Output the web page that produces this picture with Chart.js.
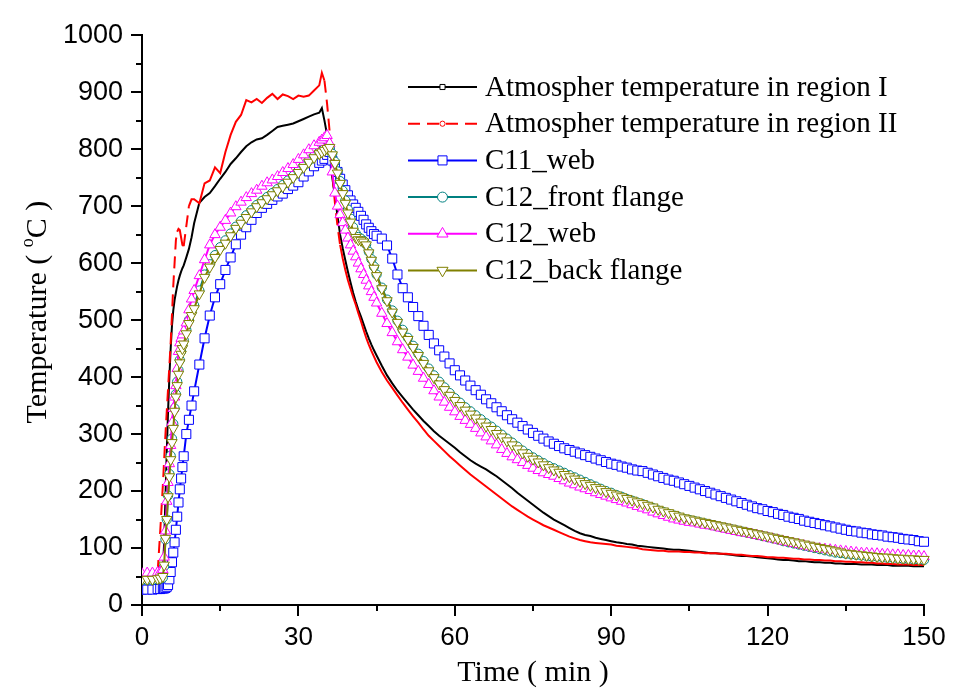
<!DOCTYPE html>
<html>
<head>
<meta charset="utf-8">
<title>Temperature - time curves</title>
<script src="https://cdn.jsdelivr.net/npm/chart.js@4.4.3/dist/chart.umd.min.js"></script>
<style>
  html, body { margin: 0; padding: 0; background: #fff; }
  canvas { display: block; }
</style>
</head>
<body>
<canvas id="tempChart" width="968" height="690"></canvas>
<script>
// sampling times (min), finer during the heating jump and the cooling drop
const minutes = [
  0, 1, 2, 3, 3.5, 4, 4.25, 4.5, 4.75, 5, 5.25, 5.5, 5.75, 6, 6.25, 6.5, 6.75, 7, 7.25, 7.5, 7.75, 8, 8.5, 9, 9.5, 10,
  11, 12, 13, 14, 15, 16, 17, 18, 19, 20, 21, 22, 23, 24, 25, 26, 27, 28, 29, 30, 31, 32, 33,
  34, 34.5, 35, 35.5, 36, 36.5, 37, 37.5, 38, 38.5, 39, 39.5, 40, 40.5, 41, 41.5, 42, 42.5, 43, 43.5, 44, 44.5, 45,
  46, 47, 48, 49, 50, 51, 52, 53, 54, 55,
  56, 57, 58, 59, 60, 61, 62, 63, 64, 65,
  66, 67, 68, 69, 70, 71, 72, 73, 74, 75,
  76, 77, 78, 79, 80, 81, 82, 83, 84, 85,
  86, 87, 88, 89, 90, 91, 92, 93, 94, 95,
  96, 97, 98, 99, 100, 101, 102, 103, 104, 105,
  106, 107, 108, 109, 110, 111, 112, 113, 114, 115,
  116, 117, 118, 119, 120, 121, 122, 123, 124, 125,
  126, 127, 128, 129, 130, 131, 132, 133, 134, 135,
  136, 137, 138, 139, 140, 141, 142, 143, 144, 145,
  146, 147, 148, 149, 150
];

const atmosRegionI = [
  50, 50, 50, 52, 55, 60, 110, 190, 270, 340, 400, 450, 490, 517, 535, 548, 560, 570, 578, 585, 591, 596, 610, 625, 645, 670,
  706, 716, 723, 735, 748, 760, 774, 784, 795, 805, 812, 817, 819, 825, 832, 839, 841, 843, 845, 849, 853, 857, 861,
  864, 872, 850, 825, 785, 750, 717, 683, 650, 626, 605, 585, 566, 548, 532, 518, 506, 493, 480, 468, 457, 447, 438,
  420, 403, 389, 376, 365, 354, 343, 333, 323, 314,
  305, 297, 290, 283, 276, 268, 261, 254, 248, 243,
  238, 232, 226, 219, 212, 205, 197, 190, 183, 176,
  169, 162, 156, 150, 145, 140, 135, 130, 126, 123,
  121, 118, 116, 114, 112, 110, 109, 107, 106, 104,
  103, 102, 101, 100, 99, 98, 97, 97, 96, 95,
  94, 93, 92, 91, 91, 90, 89, 88, 87, 86,
  86, 85, 84, 83, 82, 81, 80, 79, 79, 78,
  77, 77, 76, 75, 75, 74, 74, 73, 73, 72,
  72, 72, 71, 71, 71, 70, 70, 70, 69, 69,
  69, 69, 68, 68, 68
];

const atmosRegionII = [
  55, 55, 55, 58, 130, 210, 255, 300, 340, 380, 420, 460, 510, 560, 600, 640, 655, 660, 658, 645, 632, 630, 665, 700, 712, 712,
  705, 740, 745, 768, 758, 795, 825, 848, 860, 886, 882, 888, 881, 890, 897, 888, 896, 893, 888, 894, 892, 894, 903,
  912, 934, 920, 880, 830, 760, 706, 665, 632, 608, 588, 570, 555, 540, 527, 512, 498, 483, 469, 457, 446, 436, 426,
  409, 394, 381, 368, 355, 343, 331, 320, 308, 297,
  288, 279, 270, 261, 253, 245, 237, 229, 222, 215,
  208, 201, 194, 187, 180, 173, 167, 161, 155, 150,
  145, 140, 136, 132, 128, 124, 120, 117, 114, 112,
  110, 109, 108, 107, 106, 104, 103, 102, 101, 100,
  98, 97, 96, 95, 95, 94, 94, 94, 93, 93,
  92, 92, 91, 91, 91, 90, 90, 89, 88, 88,
  87, 86, 86, 85, 84, 84, 83, 83, 82, 81,
  81, 80, 80, 79, 79, 78, 78, 77, 77, 76,
  76, 75, 75, 74, 74, 73, 73, 72, 72, 71,
  71, 71, 70, 70, 70
];

const c11Web = [
  27, 27, 27, 28, 28, 29, 29, 30, 32, 35, 45, 58, 75, 92, 110, 132, 155, 180, 203, 222, 242, 261, 300, 325, 350, 375,
  422, 468, 508, 540, 563, 588, 610, 633, 650, 663, 676, 688, 697, 704, 711, 717, 722, 730, 736, 742, 752, 761, 770,
  776, 780, 783, 790, 795, 780, 770, 760, 748, 738, 728, 719, 710, 703, 697, 690, 683, 676, 668, 662, 656, 651, 648,
  643, 631, 608, 580, 556, 540, 523, 507, 490, 474,
  459, 447, 436, 424, 412, 403, 394, 385, 377, 369,
  361, 354, 347, 340, 333, 326, 320, 314, 308, 302,
  297, 292, 287, 283, 279, 275, 272, 269, 266, 263,
  260, 257, 254, 251, 248, 246, 243, 241, 238, 236,
  235, 232, 229, 226, 223, 220, 218, 215, 212, 209,
  206, 203, 200, 197, 194, 191, 188, 185, 182, 179,
  176, 173, 170, 168, 165, 163, 160, 158, 155, 153,
  151, 148, 146, 144, 142, 140, 138, 136, 134, 132,
  130, 129, 127, 126, 124, 123, 122, 120, 119, 118,
  116, 115, 114, 112, 111
];

const c12FrontFlange = [
  44, 44, 44, 45, 46, 48, 68, 115, 150, 192, 230, 262, 292, 318, 345, 370, 392, 412, 430, 445, 456, 465, 483, 500, 514, 526,
  552, 580, 598, 614, 628, 640, 652, 664, 674, 684, 693, 702, 709, 716, 723, 730, 737, 745, 753, 762, 771, 780, 788,
  795, 798, 801, 803, 803, 792, 778, 761, 744, 727, 710, 694, 678, 663, 652, 646, 643, 639, 633, 620, 607, 594, 580,
  557, 536, 517, 499, 483, 469, 455, 441, 428, 415,
  403, 392, 382, 372, 363, 355, 347, 340, 333, 326,
  319, 313, 306, 299, 292, 285, 278, 271, 265, 259,
  254, 249, 244, 240, 236, 232, 228, 224, 220, 216,
  212, 208, 204, 200, 197, 193, 190, 186, 183, 180,
  177, 173, 170, 166, 163, 160, 157, 154, 151, 149,
  147, 145, 143, 141, 139, 137, 135, 133, 131, 129,
  127, 125, 123, 121, 119, 117, 115, 112, 110, 108,
  106, 104, 102, 100, 98, 96, 94, 92, 91, 90,
  89, 88, 87, 86, 85, 85, 84, 83, 83, 82,
  81, 81, 80, 80, 79
];

const c12Web = [
  55, 56, 56, 57, 58, 62, 84, 130, 182, 215, 248, 280, 320, 345, 365, 385, 415, 445, 460, 468, 474, 481, 495, 518, 537, 552,
  578, 606, 632, 650, 663, 675, 688, 699, 707, 715, 722, 728, 735, 741, 746, 752, 759, 766, 773, 782, 790, 799, 806,
  812, 816, 820, 824, 810, 760, 723, 700, 685, 671, 658, 644, 632, 621, 611, 600, 590, 580, 570, 560, 550, 540, 530,
  512, 494, 478, 462, 448, 435, 421, 410, 398, 387,
  376, 365, 356, 347, 339, 331, 324, 317, 310, 302,
  295, 288, 281, 273, 266, 260, 255, 250, 245, 240,
  236, 232, 229, 226, 222, 218, 214, 211, 207, 204,
  201, 197, 194, 191, 188, 185, 182, 179, 176, 173,
  170, 167, 163, 160, 157, 154, 151, 149, 147, 145,
  144, 142, 140, 139, 137, 135, 133, 131, 129, 127,
  126, 124, 122, 120, 118, 116, 114, 112, 110, 108,
  106, 104, 102, 100, 99, 98, 97, 96, 95, 94,
  93, 92, 91, 91, 90, 90, 89, 89, 88, 88,
  87, 87, 86, 86, 85
];

const c12BackFlange = [
  45, 45, 45, 46, 47, 50, 70, 117, 150, 190, 225, 255, 285, 310, 340, 365, 385, 405, 425, 440, 450, 458, 476, 494, 508, 520,
  546, 575, 593, 610, 624, 635, 648, 661, 670, 680, 690, 699, 706, 713, 720, 727, 734, 742, 750, 759, 768, 777, 785,
  792, 795, 798, 801, 803, 790, 775, 758, 740, 722, 705, 688, 672, 656, 645, 641, 640, 637, 632, 618, 605, 591, 578,
  555, 534, 514, 496, 479, 466, 452, 438, 424, 411,
  399, 388, 378, 368, 359, 350, 342, 335, 328, 321,
  314, 308, 301, 295, 288, 281, 274, 267, 261, 256,
  251, 246, 241, 237, 233, 229, 225, 221, 217, 213,
  210, 206, 203, 199, 196, 193, 190, 187, 184, 181,
  178, 175, 172, 168, 165, 162, 159, 156, 153, 151,
  149, 147, 145, 143, 141, 139, 137, 135, 133, 131,
  129, 127, 125, 123, 121, 119, 117, 115, 113, 111,
  109, 107, 105, 103, 101, 99, 97, 95, 93, 91,
  90, 89, 88, 87, 86, 85, 84, 84, 83, 82,
  82, 81, 81, 80, 80
];

const xTicks = [0, 30, 60, 90, 120, 150];
const yTicks = [0, 100, 200, 300, 400, 500, 600, 700, 800, 900, 1000];

[atmosRegionI, atmosRegionII, c11Web, c12FrontFlange, c12Web, c12BackFlange].forEach((arr, i) => {
  if (arr.length !== minutes.length) throw new Error('series ' + i + ' has ' + arr.length + ' values, expected ' + minutes.length);
});

const SANS = '"Liberation Sans", Arial, sans-serif';
const SERIF = '"Liberation Serif", "Times New Roman", serif';

function series(label, values, color, extra) {
  return Object.assign({
    label,
    data: minutes.map((t, i) => ({ x: t, y: values[i] })),
    borderColor: color,
    backgroundColor: '#ffffff',
    pointBackgroundColor: '#ffffff',
    pointBorderColor: color,
    borderWidth: 2,
    pointBorderWidth: 1,
    pointRadius: 0,
    tension: 0,
    clip: { left: 0, top: 10, right: 8, bottom: 10 }
  }, extra);
}

// red curve: dashes only show up on the steep parts of the trace
const steepDash = ctx => {
  const dx = Math.abs(ctx.p1.x - ctx.p0.x);
  const dy = Math.abs(ctx.p1.y - ctx.p0.y);
  return dy > 6 * dx ? [12, 7] : [];
};

const datasets = [
  series('Atmospher temperature in region I', atmosRegionI, '#000000',
    { order: 5, key: { style: 'rect', radius: 3.6 } }),
  series('Atmospher temperature in region II', atmosRegionII, '#ff0000',
    { order: 4, segment: { borderDash: steepDash }, key: { style: 'circle', radius: 2.6, dash: [12, 7] } }),
  series('C11_web', c11Web, '#0000ff',
    { order: 3, pointStyle: 'rect', pointRadius: 6.4, key: { style: 'rect', radius: 6.4 } }),
  series('C12_front flange', c12FrontFlange, '#008080',
    { order: 2, pointStyle: 'circle', pointRadius: 4.6, key: { style: 'circle', radius: 5 } }),
  series('C12_web', c12Web, '#ff00ff',
    { order: 1, pointStyle: 'triangle', pointRadius: 6, key: { style: 'triangle', radius: 6.4 } }),
  series('C12_back flange', c12BackFlange, '#808000',
    { order: 0, pointStyle: 'triangle', pointRotation: 180, pointRadius: 6, key: { style: 'triangle', radius: 6.4, rotation: 180 } })
];

// outward major/minor tick marks on both axes
const tickMarks = {
  id: 'tickMarks',
  afterDraw(chart) {
    const { ctx, scales: { x, y } } = chart;
    ctx.save();
    ctx.strokeStyle = '#000';
    ctx.lineWidth = 2;
    ctx.beginPath();
    for (let v = 0; v <= 1000; v += 50) {
      const py = Math.round(y.getPixelForValue(v));
      const len = v % 100 === 0 ? 11 : 6;
      ctx.moveTo(x.left - len, py);
      ctx.lineTo(x.left, py);
    }
    for (let t = 0; t <= 150; t += 15) {
      const px = Math.round(x.getPixelForValue(t));
      const len = t % 30 === 0 ? 11 : 6;
      ctx.moveTo(px, y.bottom);
      ctx.lineTo(px, y.bottom + len);
    }
    ctx.stroke();
    ctx.restore();
  }
};

// axis titles, drawn by hand for the superscript in the unit
const axisTitles = {
  id: 'axisTitles',
  afterDraw(chart) {
    const { ctx, chartArea } = chart;
    ctx.save();
    ctx.fillStyle = '#000';
    ctx.textBaseline = 'middle';
    ctx.textAlign = 'center';
    ctx.font = '30px ' + SERIF;
    ctx.fillText('Time ( min )', (chartArea.left + chartArea.right) / 2, 673);

    const parts = [['Temperature ( ', 30, 0], ['o', 18, -10], ['C )', 30, 0]];
    let total = 0;
    parts.forEach(p => { ctx.font = p[1] + 'px ' + SERIF; total += ctx.measureText(p[0]).width; });
    ctx.translate(38, (chartArea.top + chartArea.bottom) / 2 - 8);
    ctx.rotate(-Math.PI / 2);
    ctx.textAlign = 'left';
    let cx = -total / 2;
    parts.forEach(p => {
      ctx.font = p[1] + 'px ' + SERIF;
      ctx.fillText(p[0], cx, p[2]);
      cx += ctx.measureText(p[0]).width;
    });
    ctx.restore();
  }
};

// key in the upper right of the plot: short line with the marker in the middle
const seriesKey = {
  id: 'seriesKey',
  afterDraw(chart) {
    const ctx = chart.ctx;
    ctx.save();
    ctx.font = '29px ' + SERIF;
    ctx.textBaseline = 'middle';
    chart.data.datasets.forEach((ds, i) => {
      const y = 87 + i * 36.7;
      ctx.strokeStyle = ds.borderColor;
      ctx.lineWidth = 2;
      ctx.setLineDash(ds.key.dash || []);
      ctx.beginPath();
      ctx.moveTo(408, y);
      ctx.lineTo(477, y);
      ctx.stroke();
      ctx.setLineDash([]);
      ctx.fillStyle = '#fff';
      ctx.lineWidth = 1;
      Chart.helpers.drawPoint(ctx, {
        pointStyle: ds.key.style, radius: ds.key.radius, rotation: ds.key.rotation || 0, borderWidth: 1
      }, 442.5, y);
      ctx.fillStyle = '#000';
      ctx.fillText(ds.label, 485, y + 1);
    });
    ctx.restore();
  }
};

new Chart(document.getElementById('tempChart'), {
  type: 'line',
  data: { datasets },
  plugins: [tickMarks, axisTitles, seriesKey],
  options: {
    responsive: false,
    devicePixelRatio: 1,
    animation: false,
    events: [],
    layout: { padding: { top: 22, right: 44, left: 0, bottom: 0 } },
    plugins: { legend: { display: false }, tooltip: { enabled: false } },
    scales: {
      x: {
        type: 'linear',
        min: 0,
        max: 150,
        afterFit: s => { s.height = 85; },
        afterBuildTicks: s => { s.ticks = xTicks.map(v => ({ value: v })); },
        grid: { display: false, drawTicks: false },
        border: { display: true, color: '#000', width: 2 },
        ticks: { color: '#000', padding: 17, maxRotation: 0, callback: v => String(v), font: { family: SANS, size: 26 } }
      },
      y: {
        type: 'linear',
        min: 0,
        max: 1000,
        afterFit: s => { s.width = 142; },
        afterBuildTicks: s => { s.ticks = yTicks.map(v => ({ value: v })); },
        grid: { display: false, drawTicks: false },
        border: { display: true, color: '#000', width: 2 },
        ticks: { color: '#000', padding: 19, callback: v => String(v), font: { family: SANS, size: 27 } }
      }
    }
  }
});
</script>
</body>
</html>
